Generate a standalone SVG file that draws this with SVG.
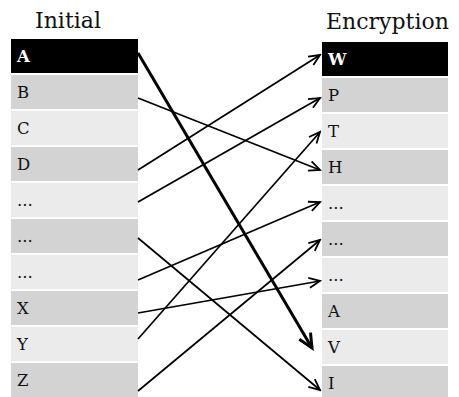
<svg xmlns="http://www.w3.org/2000/svg" width="459" height="397" viewBox="0 0 459 397">
  <style>
    .title { font-family: "DejaVu Serif", "Liberation Serif", serif; font-size: 22px; fill: #111; }
    .lbl { font-family: "DejaVu Serif", "Liberation Serif", serif; font-size: 16.5px; fill: #111; }
    .lbl-head { font-family: "DejaVu Serif", "Liberation Serif", serif; font-size: 16.5px; font-weight: bold; fill: #fff; }
    .head { fill: #000; }
    .dark { fill: #d3d3d3; }
    .light { fill: #ebebeb; }
    .link { fill: none; stroke: #000; stroke-width: 1.7; marker-end: url(#arrow); }
    .link-bold { fill: none; stroke: #000; stroke-width: 3; marker-end: url(#arrow-bold); }
  </style>
  <defs>
    <marker id="arrow" viewBox="0 0 14 12" refX="12" refY="6" markerWidth="14" markerHeight="12" orient="auto" markerUnits="userSpaceOnUse">
      <path d="M1,1 L12,6 L1,11" fill="none" stroke="#000" stroke-width="1.8"/>
    </marker>
    <marker id="arrow-bold" viewBox="0 0 18 16" refX="15" refY="8" markerWidth="18" markerHeight="16" orient="auto" markerUnits="userSpaceOnUse">
      <path d="M1,1.5 L15,8 L1,14.5" fill="none" stroke="#000" stroke-width="3"/>
    </marker>
  </defs>

  <rect width="459" height="397" fill="#fff"/>

  <text class="title" x="35" y="28">Initial</text>
  <text class="title" x="326" y="29">Encryption</text>

  <!-- left column: plain alphabet -->
  <g id="in-A"><rect class="head" x="11" y="39" width="127" height="34"/><text class="lbl-head" x="17" y="62">A</text></g>
  <g id="in-B"><rect class="dark" x="11" y="75" width="127" height="34"/><text class="lbl" x="17" y="98">B</text></g>
  <g id="in-C"><rect class="light" x="11" y="111" width="127" height="34"/><text class="lbl" x="17" y="134">C</text></g>
  <g id="in-D"><rect class="dark" x="11" y="147" width="127" height="34"/><text class="lbl" x="17" y="170">D</text></g>
  <g id="in-e1"><rect class="light" x="11" y="183" width="127" height="34"/><text class="lbl" x="17" y="206">...</text></g>
  <g id="in-e2"><rect class="dark" x="11" y="219" width="127" height="34"/><text class="lbl" x="17" y="242">...</text></g>
  <g id="in-e3"><rect class="light" x="11" y="255" width="127" height="34"/><text class="lbl" x="17" y="278">...</text></g>
  <g id="in-X"><rect class="dark" x="11" y="291" width="127" height="34"/><text class="lbl" x="17" y="314">X</text></g>
  <g id="in-Y"><rect class="light" x="11" y="327" width="127" height="34"/><text class="lbl" x="17" y="350">Y</text></g>
  <g id="in-Z"><rect class="dark" x="11" y="363" width="127" height="34"/><text class="lbl" x="17" y="386">Z</text></g>

  <!-- right column: cipher alphabet -->
  <g id="out-W"><rect class="head" x="322" y="42" width="126" height="34"/><text class="lbl-head" x="328" y="65">W</text></g>
  <g id="out-P"><rect class="dark" x="322" y="78" width="126" height="34"/><text class="lbl" x="328" y="101">P</text></g>
  <g id="out-T"><rect class="light" x="322" y="114" width="126" height="34"/><text class="lbl" x="328" y="137">T</text></g>
  <g id="out-H"><rect class="dark" x="322" y="150" width="126" height="34"/><text class="lbl" x="328" y="173">H</text></g>
  <g id="out-e1"><rect class="light" x="322" y="186" width="126" height="34"/><text class="lbl" x="328" y="209">...</text></g>
  <g id="out-e2"><rect class="dark" x="322" y="222" width="126" height="34"/><text class="lbl" x="328" y="245">...</text></g>
  <g id="out-e3"><rect class="light" x="322" y="258" width="126" height="34"/><text class="lbl" x="328" y="281">...</text></g>
  <g id="out-A"><rect class="dark" x="322" y="294" width="126" height="34"/><text class="lbl" x="328" y="317">A</text></g>
  <g id="out-V"><rect class="light" x="322" y="330" width="126" height="34"/><text class="lbl" x="328" y="353">V</text></g>
  <g id="out-I"><rect class="dark" x="322" y="366" width="126" height="34"/><text class="lbl" x="328" y="389">I</text></g>

  <!-- substitution mapping -->
  <g id="connectors">
    <line class="link-bold" x1="138" y1="53" x2="312" y2="348"/>
    <line class="link" x1="138" y1="98" x2="320" y2="170"/>
    <line class="link" x1="138" y1="170" x2="320" y2="55"/>
    <line class="link" x1="138" y1="202" x2="320" y2="98"/>
    <line class="link" x1="138" y1="238" x2="320" y2="390"/>
    <line class="link" x1="138" y1="280" x2="320" y2="202"/>
    <line class="link" x1="138" y1="313" x2="320" y2="281"/>
    <line class="link" x1="138" y1="339" x2="320" y2="132"/>
    <line class="link" x1="138" y1="391" x2="320" y2="240"/>
  </g>
</svg>
